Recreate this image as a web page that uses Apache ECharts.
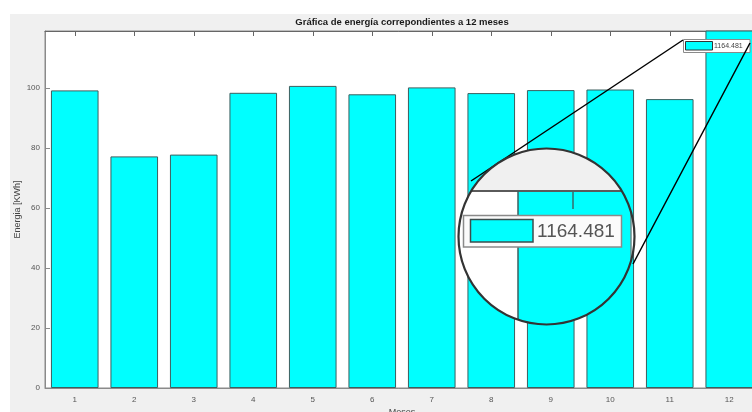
<!DOCTYPE html>
<html>
<head>
<meta charset="utf-8">
<script src="https://cdn.jsdelivr.net/npm/echarts@6/dist/echarts.min.js"></script>
<style>html,body{margin:0;padding:0;background:#fff;}#c{width:752px;height:412px;}</style>
</head>
<body>
<div id="c"></div>
<script>
const months = ['1','2','3','4','5','6','7','8','9','10','11','12'];
const energy = [99.2, 77.2, 77.8, 98.4, 100.7, 97.9, 100.2, 98.3, 99.3, 99.5, 96.3, 119.7];
const legendLabel = '1164.481';
const titleText = 'Gráfica de energía correpondientes a 12 meses';
const yName = 'Energia [KWh]';
const xName = 'Meses';

const FONT = '"Liberation Sans", Arial, sans-serif';

// magnifier decoration helpers
function circlePoly(cx, cy, r, n) {
  const pts = [];
  for (let i = 0; i < n; i++) {
    const a = 2 * Math.PI * i / n;
    pts.push([cx + r * Math.cos(a), cy + r * Math.sin(a)]);
  }
  return pts;
}
function clipEdge(poly, inside, intersect) {
  const out = [];
  for (let i = 0; i < poly.length; i++) {
    const cur = poly[i], prev = poly[(i + poly.length - 1) % poly.length];
    const ci = inside(cur), pi = inside(prev);
    if (ci) {
      if (!pi) out.push(intersect(prev, cur));
      out.push(cur);
    } else if (pi) {
      out.push(intersect(prev, cur));
    }
  }
  return out;
}
function clipRect(poly, x0, y0, x1, y1) {
  const ix = (x) => (a, b) => { const t = (x - a[0]) / (b[0] - a[0]); return [x, a[1] + t * (b[1] - a[1])]; };
  const iy = (y) => (a, b) => { const t = (y - a[1]) / (b[1] - a[1]); return [a[0] + t * (b[0] - a[0]), y]; };
  let p = poly;
  p = clipEdge(p, q => q[0] >= x0, ix(x0));
  p = clipEdge(p, q => q[0] <= x1, ix(x1));
  p = clipEdge(p, q => q[1] >= y0, iy(y0));
  p = clipEdge(p, q => q[1] <= y1, iy(y1));
  return p;
}
const CX = 546.5, CY = 236.5, R = 88;
const circ = circlePoly(CX, CY, R, 180);
function region(x0, y0, x1, y1, fill) {
  return { type: 'polygon', shape: { points: clipRect(circ, x0, y0, x1, y1) }, style: { fill: fill }, z: 100 };
}
function segLine(x0, y0, x1, y1, color, w) {
  const dx = x1 - x0, dy = y1 - y0;
  const fx = x0 - CX, fy = y0 - CY;
  const a = dx * dx + dy * dy, b = 2 * (fx * dx + fy * dy), c = fx * fx + fy * fy - R * R;
  const disc = Math.sqrt(Math.max(0, b * b - 4 * a * c));
  const t0 = Math.max(0, (-b - disc) / (2 * a)), t1 = Math.min(1, (-b + disc) / (2 * a));
  return { type: 'line', shape: { x1: x0 + t0 * dx, y1: y0 + t0 * dy, x2: x0 + t1 * dx, y2: y0 + t1 * dy },
           style: { stroke: color, lineWidth: w }, z: 101 };
}

const chart = echarts.init(document.getElementById('c'), null, { renderer: 'canvas' });
chart.setOption({
  animation: false,
  backgroundColor: '#ffffff',
  grid: { left: 45, top: 31, width: 714, height: 357, show: true, backgroundColor: '#ffffff', borderColor: '#8a8a8a', borderWidth: 1, containLabel: false, outerBoundsMode: 'none' },
  xAxis: [{
    type: 'category', data: months, position: 'bottom',
    name: xName, nameLocation: 'middle', nameGap: 20, nameMoveOverlap: false,
    nameTextStyle: { fontFamily: FONT, fontSize: 9, color: '#444' },
    axisLine: { show: true, lineStyle: { color: '#8a8a8a', width: 1 } },
    axisTick: { show: true, inside: true, alignWithLabel: true, length: 5, lineStyle: { color: '#3a6a6a' } },
    axisLabel: { fontFamily: FONT, fontSize: 8, color: '#555', margin: 8 },
    splitLine: { show: false }
  }, {
    type: 'category', data: months, position: 'top',
    axisLine: { show: true, lineStyle: { color: '#666', width: 1 } },
    axisTick: { show: true, inside: true, alignWithLabel: true, length: 5, lineStyle: { color: '#666' } },
    axisLabel: { show: false },
    splitLine: { show: false }
  }],
  yAxis: {
    type: 'value', min: 0, max: 119, interval: 20,
    name: yName, nameLocation: 'middle', nameGap: 23, nameMoveOverlap: false,
    nameTextStyle: { fontFamily: FONT, fontSize: 9, color: '#444' },
    axisLine: { show: true, lineStyle: { color: '#8a8a8a', width: 1 } },
    axisTick: { show: true, inside: true, length: 5, lineStyle: { color: '#8a8a8a' } },
    axisLabel: { fontFamily: FONT, fontSize: 8, color: '#555', margin: 5, showMaxLabel: false },
    splitLine: { show: false }
  },
  series: [{
    type: 'bar', data: energy, barWidth: '80%', clip: true,
    itemStyle: { color: '#00ffff', borderColor: '#3d5f5f', borderWidth: 1 },
    z: 2
  }],
  graphic: [
    { type: 'rect', shape: { x: 10, y: 14, width: 742, height: 398 }, style: { fill: '#f0f0f0' }, z: -10, silent: true },
    { type: 'text', x: 402, y: 22, style: { text: titleText, font: 'bold 9.5px ' + FONT, fill: '#1a1a1a', textAlign: 'center', textVerticalAlign: 'middle' }, z: 50 },
    { type: 'rect', shape: { x: 683.5, y: 39.5, width: 66.5, height: 13 }, style: { fill: '#ffffff', stroke: '#8a8a8a', lineWidth: 1 }, z: 60 },
    { type: 'rect', shape: { x: 685.5, y: 41.5, width: 27, height: 8.5 }, style: { fill: '#00ffff', stroke: '#333', lineWidth: 1 }, z: 61 },
    { type: 'text', x: 714, y: 46, style: { text: legendLabel, font: '7px ' + FONT, fill: '#444', textAlign: 'left', textVerticalAlign: 'middle' }, z: 61 },
    { type: 'line', shape: { x1: 683, y1: 40, x2: 471, y2: 181 }, style: { stroke: '#000', lineWidth: 1.5 }, z: 95 },
    { type: 'line', shape: { x1: 750, y1: 43, x2: 633, y2: 264 }, style: { stroke: '#000', lineWidth: 1.5 }, z: 95 },
    region(0, 0, 1000, 191, '#f0f0f0'),
    region(0, 191, 518, 1000, '#ffffff'),
    region(518, 191, 631, 1000, '#00ffff'),
    region(631, 191, 1000, 1000, '#ffffff'),
    segLine(400, 191, 700, 191, '#5a5a5a', 2),
    segLine(518, 191, 518, 400, '#3d5f5f', 1.5),
    segLine(631, 191, 631, 400, '#6a8a8a', 1.5),
    { type: 'line', shape: { x1: 573, y1: 191, x2: 573, y2: 209 }, style: { stroke: '#3a6a6a', lineWidth: 1.5 }, z: 101 },
    { type: 'rect', shape: { x: 463.5, y: 215.5, width: 158, height: 31.5 }, style: { fill: '#fbfbfb', stroke: '#8a8a8a', lineWidth: 1.5 }, z: 102 },
    { type: 'rect', shape: { x: 470.5, y: 219.5, width: 62.5, height: 22.5 }, style: { fill: '#00ffff', stroke: '#3d4d4d', lineWidth: 1.5 }, z: 103 },
    { type: 'text', x: 537, y: 232, style: { text: legendLabel, font: '19px ' + FONT, fill: '#555', textAlign: 'left', textVerticalAlign: 'middle' }, z: 103 },
    { type: 'circle', shape: { cx: CX, cy: CY, r: R }, style: { fill: null, stroke: '#333', lineWidth: 2.2 }, z: 104 }
  ]
});
</script>
</body>
</html>
